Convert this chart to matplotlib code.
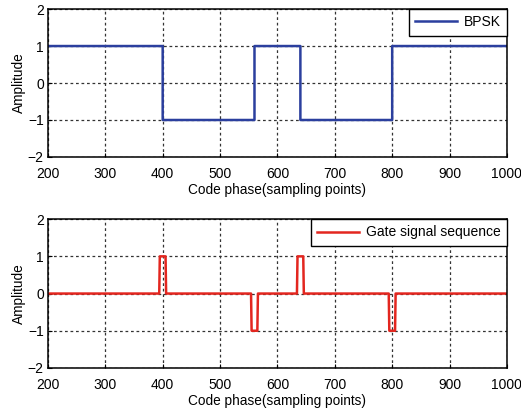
import numpy as np
import matplotlib
matplotlib.use("Agg")
import matplotlib.pyplot as plt

plt.rcParams['font.family'] = ['Liberation Sans', 'DejaVu Sans']
plt.rcParams['font.size'] = 9.8

# BPSK chip boundaries and levels
bpsk_edges = [200, 400, 560, 640, 800, 1000]
bpsk_levels = [1, -1, 1, -1, 1]

# Gate pulses at each code transition
gate_centers = [400, 560, 640, 800]
gate_levels = [1, -1, 1, -1]
gate_half_width = 5

x_ticks = [200, 300, 400, 500, 600, 700, 800, 900, 1000]
y_ticks = [-2, -1, 0, 1, 2]

n = np.arange(200, 1001)
bpsk = np.zeros_like(n, dtype=float)
for lo, hi, v in zip(bpsk_edges[:-1], bpsk_edges[1:], bpsk_levels):
    bpsk[(n >= lo) & (n < hi)] = v
bpsk[n == bpsk_edges[-1]] = bpsk_levels[-1]

gate = np.zeros_like(n, dtype=float)
for c, v in zip(gate_centers, gate_levels):
    gate[(n >= c - gate_half_width) & (n <= c + gate_half_width)] = v

fig = plt.figure(figsize=(5.21, 4.12), dpi=100)
ax1 = fig.add_axes([0.092, 0.619, 0.881, 0.359])
ax2 = fig.add_axes([0.092, 0.107, 0.881, 0.361])

ax1.step(n, bpsk, where='post', color='#2b3f9e', lw=1.8, label='BPSK')
ax2.plot(n, gate, color='#e3261f', lw=1.8, label='Gate signal sequence')

for ax in (ax1, ax2):
    ax.set_xlim(200, 1000)
    ax.set_ylim(-2, 2)
    ax.set_xticks(x_ticks)
    ax.set_yticks(y_ticks)
    ax.grid(True, color='#333333', linestyle=(0, (2.2, 2.2)), linewidth=0.9)
    ax.tick_params(direction='in', length=3, width=0.8, labelsize=10)
    ax.tick_params(axis='x', pad=7)
    ax.tick_params(axis='y', pad=3)
    for s in ax.spines.values():
        s.set_linewidth(1.1)
    ax.set_xlabel('Code phase(sampling points)', labelpad=2)
    ax.set_ylabel('Amplitude', labelpad=1)
    leg = ax.legend(loc='upper right', borderaxespad=0, fancybox=False,
                    framealpha=1, edgecolor='black', handlelength=3.0,
                    handletextpad=0.5, borderpad=0.45, fontsize=10)
    leg.get_frame().set_linewidth(1.0)

fig.savefig('out.png', dpi=100)
